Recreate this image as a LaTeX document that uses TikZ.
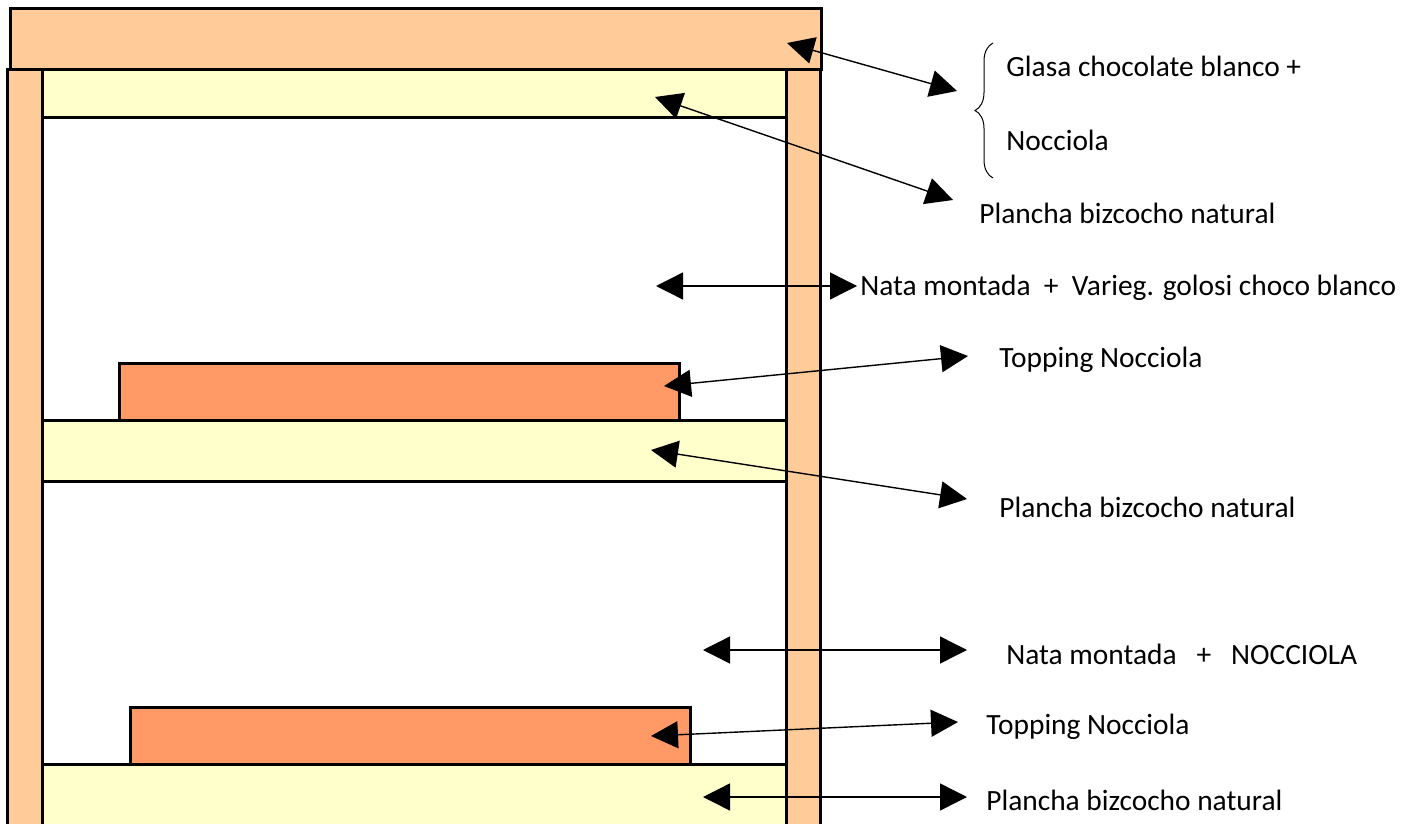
\documentclass[tikz,border=0pt]{standalone}
\usepackage{fontspec}
\setmainfont{Carlito}
\usetikzlibrary{arrows.meta,decorations.pathreplacing}
\definecolor{crust}{HTML}{FFCC99}
\definecolor{sponge}{HTML}{FFFFCC}
\definecolor{topping}{HTML}{FF9966}

\begin{document}
\begin{tikzpicture}[x=0.5pt,y=-0.5pt,font=\fontsize{14.7}{17}\selectfont,
   layer/.style={draw=black,line width=1.5pt},
   both/.style={{Triangle[length=13.5pt,width=13.5pt]}-{Triangle[length=13.5pt,width=13.5pt]},line width=0.7pt},
   lbl/.style={anchor=west,inner sep=0pt}]
   \useasboundingbox (0,0) rectangle (1413,824);
   \clip (0,0) rectangle (1413,824);
   % cake
   \draw[layer,fill=crust] (10,9) rectangle (821,70);
   \draw[layer,fill=crust] (7,70) rectangle (42,840);
   \draw[layer,fill=crust] (786,70) rectangle (820,840);
   \draw[layer,fill=sponge] (42,70) rectangle (786,118);
   \draw[layer,fill=topping] (119,363) rectangle (679,420);
   \draw[layer,fill=sponge] (42,420) rectangle (786,481);
   \draw[layer,fill=topping] (130,707) rectangle (690,764);
   \draw[layer,fill=sponge] (42,764) rectangle (786,840);
   % labels
   \node[lbl] (glasa) at (1006,66) {Glasa chocolate blanco +};
   \node[lbl] (nocc) at (1006,140) {Nocciola};
   \node[lbl] (planchaA) at (979,213) {Plancha bizcocho natural};
   \node[lbl] (nataA) at (860,288) {Nata montada \ + \ Varieg. golosi choco blanco};
   \node[lbl] (toppingA) at (999,360) {Topping Nocciola};
   \node[lbl] (planchaB) at (999,507) {Plancha bizcocho natural};
   \node[lbl] (nataB) at (1006,654) {Nata montada \ \ + \ \ NOCCIOLA};
   \node[lbl] (toppingB) at (986,727) {Topping Nocciola};
   \node[lbl] (planchaC) at (986,800) {Plancha bizcocho natural};
   \draw[decorate,decoration={brace,amplitude=9pt},line width=0.5pt] (993,178) -- (993,43);
   % arrow ends
   \coordinate (glaze) at (787,43);   \coordinate (glazeR) at (957,91);
   \coordinate (spongeA) at (655,97); \coordinate (spongeAR) at (953,200);
   \coordinate (creamA) at (656,286); \coordinate (creamAR) at (857,286);
   \coordinate (topA) at (664,386);   \coordinate (topAR) at (968,356);
   \coordinate (spongeB) at (651,450); \coordinate (spongeBR) at (967,499);
   \coordinate (creamB) at (703,650); \coordinate (creamBR) at (967,650);
   \coordinate (topB) at (651,736);   \coordinate (topBR) at (958,722);
   \coordinate (spongeC) at (703,797); \coordinate (spongeCR) at (967,797);
   \draw[both] (glaze) -- (glazeR);
   \draw[both] (spongeA) -- (spongeAR);
   \draw[both] (creamA) -- (creamAR);
   \draw[both] (topA) -- (topAR);
   \draw[both] (spongeB) -- (spongeBR);
   \draw[both] (creamB) -- (creamBR);
   \draw[both] (topB) -- (topBR);
   \draw[both] (spongeC) -- (spongeCR);
\end{tikzpicture}
\end{document}
